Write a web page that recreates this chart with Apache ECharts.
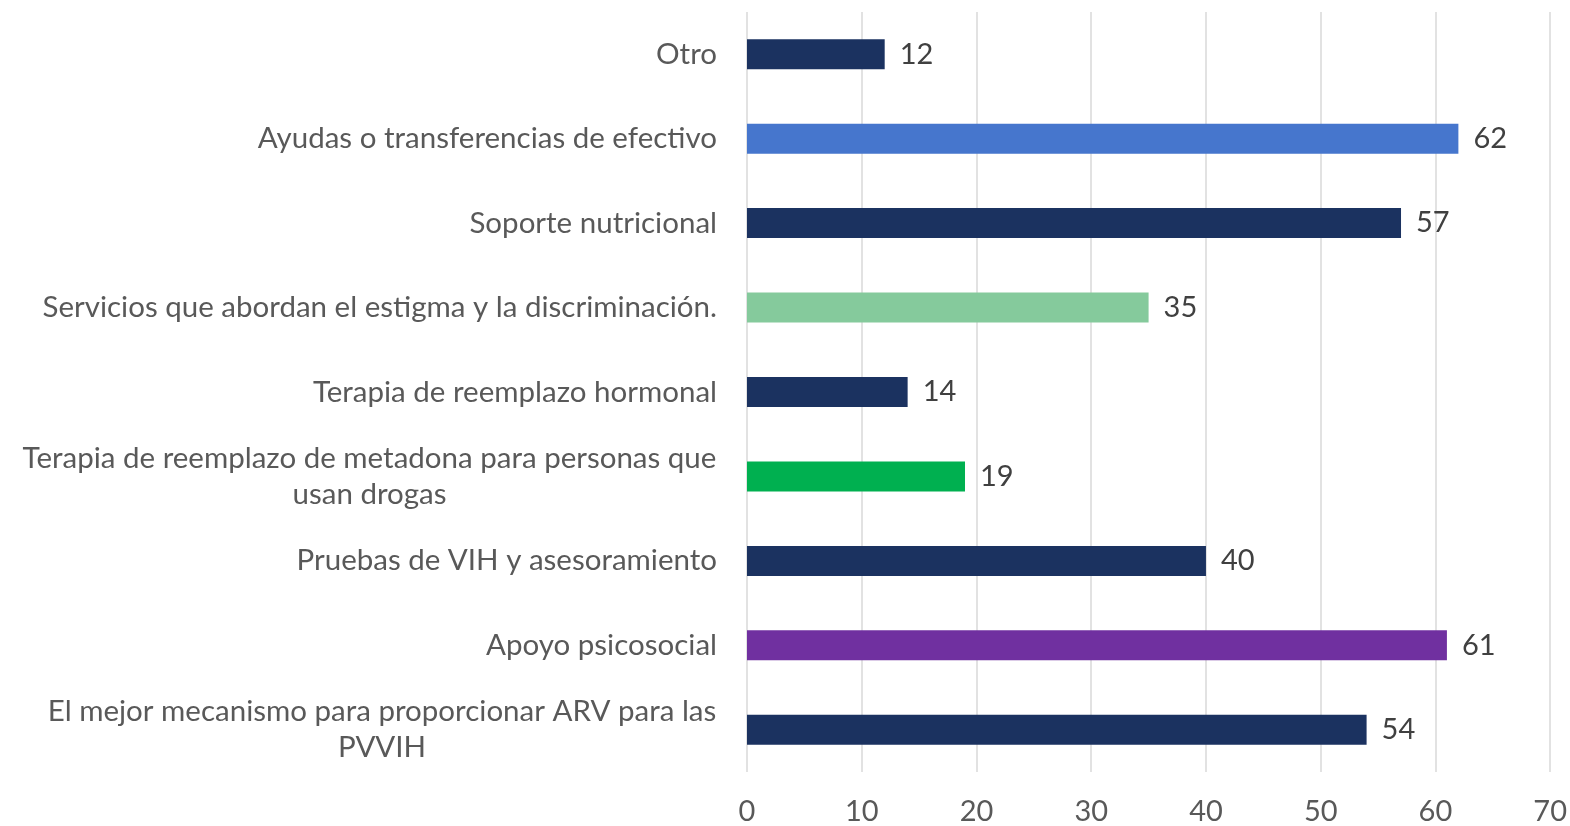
<!DOCTYPE html>
<html>
<head>
<meta charset="utf-8">
<script src="https://cdn.jsdelivr.net/npm/echarts@6/dist/echarts.min.js"></script>
<style>
  html, body { margin: 0; padding: 0; background: #fff; }
  #chart { width: 1570px; height: 826px; }
</style>
</head>
<body>
<div id="chart"></div>
<script>
// top to bottom, as drawn
const categories = [
  'Otro',
  'Ayudas o transferencias de efectivo',
  'Soporte nutricional',
  'Servicios que abordan el estigma y la discriminación.',
  'Terapia de reemplazo hormonal',
  'Terapia de reemplazo de metadona para personas que\nusan drogas',
  'Pruebas de VIH y asesoramiento',
  'Apoyo psicosocial',
  'El mejor mecanismo para proporcionar ARV para las\nPVVIH'
]
const values = [12, 62, 57, 35, 14, 19, 40, 61, 54]
const barColors = ['#1B3260', '#4676CD', '#1B3260', '#85CA9C', '#1B3260', '#00B050', '#1B3260', '#7030A0', '#1B3260']
const xTicks = [0, 10, 20, 30, 40, 50, 60, 70]

const FONT = 'Lato, "Open Sans", sans-serif'
const LABEL_SIZE = 29.5

// wrapped labels: lines centred under each other, block right-aligned at the axis
const ctx = document.createElement('canvas').getContext('2d')
ctx.font = LABEL_SIZE + 'px ' + FONT
const rich = {}
categories.forEach((c, i) => {
  const lines = c.split('\n')
  if (lines.length > 1) {
    const w = Math.max(...lines.map(l => ctx.measureText(l).width))
    rich['l' + i] = { width: Math.ceil(w) + 1, align: 'center', lineHeight: 36, fontSize: LABEL_SIZE, fontFamily: FONT, color: '#595959' }
  }
})

const chart = echarts.init(document.getElementById('chart'))

chart.setOption({
  animation: false,
  grid: { left: 747, right: 19, top: 12, bottom: 54, containLabel: false },
  xAxis: {
    type: 'value',
    min: xTicks[0],
    max: xTicks[xTicks.length - 1],
    interval: 10,
    axisLine: { show: false },
    axisTick: { show: false },
    splitLine: { lineStyle: { color: '#D9D9D9', width: 1.5 } },
    axisLabel: { color: '#595959', fontSize: 29, fontFamily: FONT, margin: 25 }
  },
  yAxis: {
    type: 'category',
    inverse: true,
    data: categories,
    axisLine: { show: false },
    axisTick: { show: false },
    axisLabel: {
      color: '#595959',
      fontSize: LABEL_SIZE,
      fontFamily: FONT,
      margin: 30,
      lineHeight: 36,
      align: 'right',
      rich: rich,
      formatter: (v, i) => {
        const lines = v.split('\n')
        if (lines.length === 1) return v
        return lines.map(l => '{l' + i + '|' + l + '}').join('\n')
      }
    }
  },
  series: [{
    type: 'bar',
    data: values.map((v, i) => ({ value: v, itemStyle: { color: barColors[i] } })),
    barWidth: 30,
    label: {
      show: true,
      position: 'right',
      distance: 15,
      color: '#404040',
      fontSize: 29,
      fontFamily: FONT
    }
  }]
})
</script>
</body>
</html>
